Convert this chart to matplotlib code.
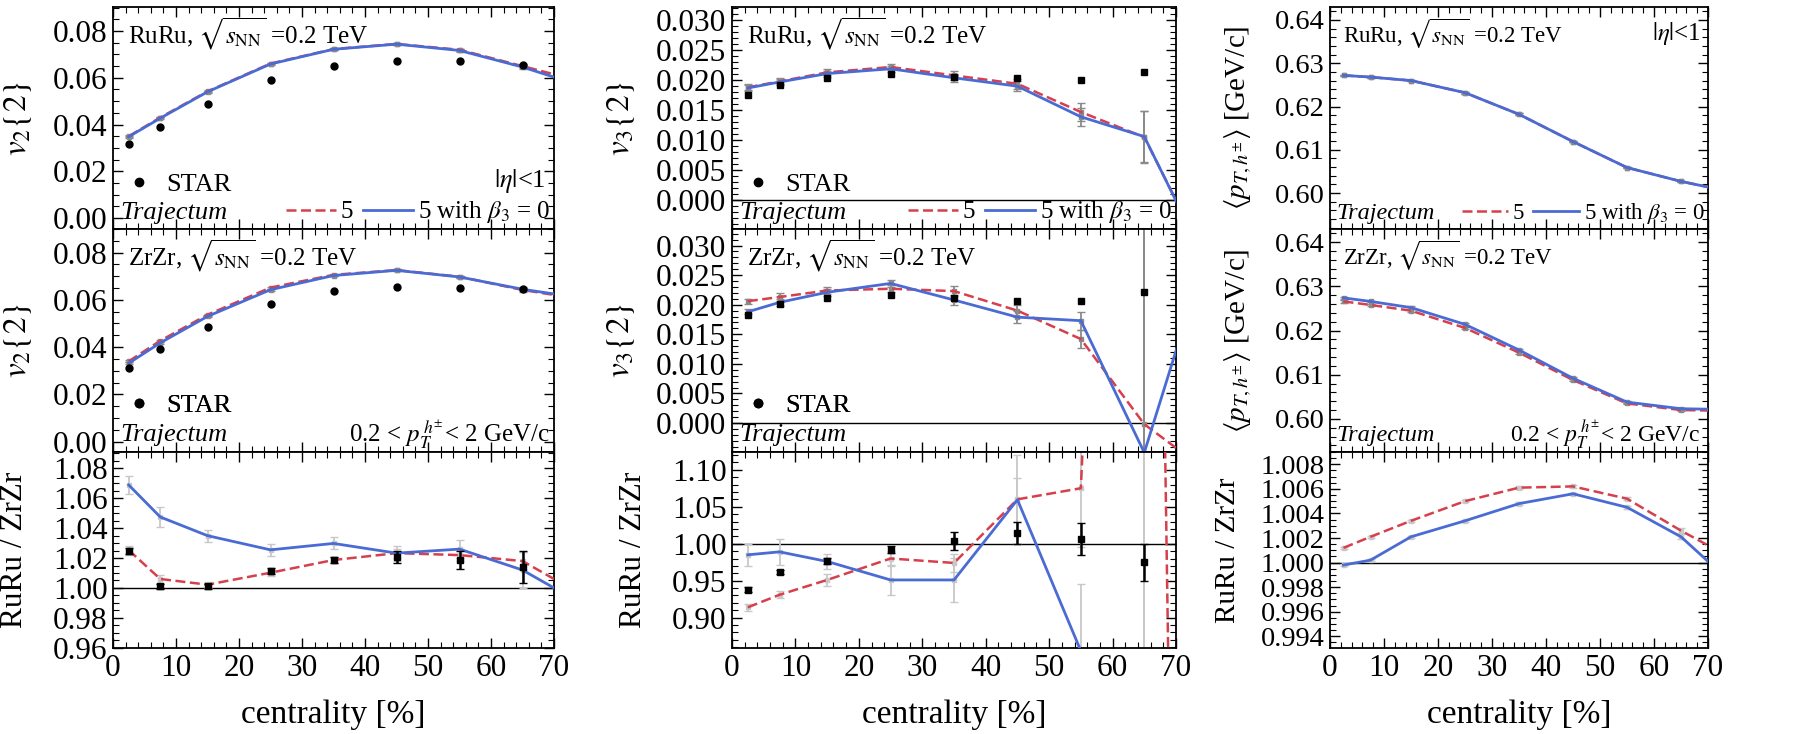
import numpy as np
import matplotlib
matplotlib.use('Agg')
import matplotlib.pyplot as plt
from matplotlib.ticker import MultipleLocator, FuncFormatter
from matplotlib.lines import Line2D

plt.rcParams['font.family'] = ['Liberation Serif', 'DejaVu Serif']
plt.rcParams['mathtext.fontset'] = 'stix'

# ---------------- data ----------------
cent = [2.5, 7.5, 15, 25, 35, 45, 55, 65, 75]
star_cent = [2.5, 7.5, 15, 25, 35, 45, 55, 65]

# v2{2}
v2_ru_b5 = [0.0350, 0.0430, 0.0542, 0.0661, 0.0723, 0.0745, 0.0720, 0.0650, 0.0580]
v2_ru_b0 = [0.0348, 0.0427, 0.0540, 0.0659, 0.0722, 0.0744, 0.0717, 0.0646, 0.0560]
v2_ru_err = [0.0004, 0.0004, 0.0004, 0.0004, 0.0004, 0.0004, 0.0005, 0.0008, 0.0]
v2_ru_star = [0.0315, 0.0390, 0.0490, 0.0590, 0.0650, 0.0672, 0.0670, 0.0655]
v2_zr_b5 = [0.0340, 0.0427, 0.0537, 0.0652, 0.0706, 0.0726, 0.0698, 0.0642, 0.0600]
v2_zr_b0 = [0.0332, 0.0418, 0.0530, 0.0643, 0.0703, 0.0725, 0.0697, 0.0645, 0.0605]
v2_zr_err = [0.0005, 0.0005, 0.0004, 0.0004, 0.0004, 0.0004, 0.0005, 0.0008, 0.0]
v2_zr_star = [0.0311, 0.0390, 0.0487, 0.0583, 0.0636, 0.0654, 0.0651, 0.0645]
v2_ratio_b5 = [1.0253, 1.0060, 1.0022, 1.0102, 1.0187, 1.0233, 1.0220, 1.0180, 0.9940]
v2_ratio_b0 = [1.0689, 1.0475, 1.0350, 1.0255, 1.0298, 1.0233, 1.0260, 1.0120, 0.9880]
v2_ratio_b5_err = [0.003, 0.003, 0.002, 0.002, 0.002, 0.003, 0.004, 0.006, 0.0]
v2_ratio_b0_err = [0.006, 0.007, 0.004, 0.004, 0.004, 0.005, 0.006, 0.012, 0.0]
v2_ratio_star = [1.0250, 1.0010, 1.0010, 1.0115, 1.0185, 1.0210, 1.0190, 1.0140]
v2_ratio_star_err = [0.002, 0.0015, 0.0015, 0.002, 0.002, 0.004, 0.006, 0.011]

# v3{2}
v3_ru_b5 = [0.0188, 0.0198, 0.0213, 0.0222, 0.0208, 0.0194, 0.0147, 0.0105, -0.0105]
v3_ru_b0 = [0.0187, 0.0197, 0.0211, 0.0219, 0.0204, 0.0190, 0.0139, 0.0106, -0.0108]
v3_ru_err = [0.0005, 0.0005, 0.0005, 0.0005, 0.0007, 0.0008, 0.0015, 0.0043, 0.0]
v3_ru_star = [0.0175, 0.0192, 0.0203, 0.0211, 0.0205, 0.0204, 0.0201, 0.0213]
v3_zr_b5 = [0.0206, 0.0213, 0.0224, 0.0227, 0.0223, 0.0190, 0.0142, -0.0002, -0.0082]
v3_zr_b0 = [0.0188, 0.0204, 0.0221, 0.0236, 0.0208, 0.0179, 0.0173, -0.0050, 0.0294]
v3_zr_err = [0.0004, 0.0006, 0.0006, 0.0006, 0.0008, 0.0010, 0.0015, 0.0400, 0.0]
v3_zr_star = [0.0183, 0.0202, 0.0211, 0.0217, 0.0212, 0.0206, 0.0206, 0.0222]
v3_ratio_b5 = [0.914, 0.931, 0.951, 0.980, 0.974, 1.060, 1.075, 3.0, -2.7]
v3_ratio_b0 = [0.985, 0.989, 0.976, 0.951, 0.951, 1.0595, 0.855, -2.0, -0.5]
v3_ratio_b5_err = [0.005, 0.005, 0.008, 0.010, 0.012, 0.060, 0.080, 5.0, 0.0]
v3_ratio_b0_err = [0.015, 0.018, 0.010, 0.020, 0.030, 0.030, 0.090, 5.0, 0.0]
v3_ratio_star = [0.9378, 0.9618, 0.9770, 0.9919, 1.0040, 1.0144, 1.0064, 0.9750]
v3_ratio_star_err = [0.003, 0.003, 0.004, 0.005, 0.012, 0.015, 0.022, 0.025]

# <pT>
pt_ru_b5 = [0.6272, 0.6268, 0.6260, 0.6232, 0.6182, 0.6119, 0.6059, 0.6027, 0.6001]
pt_ru_b0 = [0.6272, 0.6268, 0.6260, 0.6232, 0.6182, 0.6119, 0.6059, 0.6027, 0.6001]
pt_ru_err = [0.0002, 0.0002, 0.0002, 0.0002, 0.0002, 0.0002, 0.0002, 0.0002, 0.0]
pt_zr_b5 = [0.6266, 0.6258, 0.6245, 0.6206, 0.6150, 0.6088, 0.6035, 0.6020, 0.6018]
pt_zr_b0 = [0.6274, 0.6266, 0.6252, 0.6214, 0.6156, 0.6092, 0.6038, 0.6023, 0.6021]
pt_zr_err = [0.0003, 0.0002, 0.0003, 0.0003, 0.0003, 0.0002, 0.0002, 0.0002, 0.0]
pt_ratio_b5 = [1.0012, 1.0021, 1.0034, 1.0050, 1.0061, 1.0062, 1.0052, 1.0026, 1.0002]
pt_ratio_b0 = [0.9998, 1.0002, 1.0021, 1.0034, 1.0048, 1.0056, 1.0045, 1.0021, 0.9981]
pt_ratio_err = [0.0001, 0.0001, 0.0001, 0.0001, 0.0001, 0.0001, 0.0001, 0.0002, 0.0]

# ---------------- styling ----------------
RED = '#d6404c'
BLUE = '#4a6bd3'
GRAY = '#8a8a8a'
LGRAY = '#c8c8c8'
DASH = (0, (4, 1.8))
W, H = 1812, 734
cols = [(113, 554), (732, 1176), (1330, 1708)]
rows = [(7, 229), (229, 452), (452, 648)]
TICKS = [22.5, 22.5, 20.5]
ANNS = [18, 18, 16.5]
LAB = 23
LAB3 = 21

fig = plt.figure(figsize=(W / 100, H / 100), dpi=100)


def mkax(c, r):
    l, rr = cols[c]
    t, b = rows[r]
    return fig.add_axes([l / W, 1 - b / H, (rr - l) / W, (b - t) / H])


def fmt(n):
    return FuncFormatter(lambda v, p: f'{0.0 if abs(v) < 1e-9 else v:.{n}f}')


def style(ax, col, ylim, major, minor, ndec, bottom=False):
    ax.set_xlim(0, 70)
    ax.set_ylim(*ylim)
    ax.xaxis.set_major_locator(MultipleLocator(10))
    ax.xaxis.set_minor_locator(MultipleLocator(2))
    ax.yaxis.set_major_locator(MultipleLocator(major))
    ax.yaxis.set_minor_locator(MultipleLocator(minor))
    ax.yaxis.set_major_formatter(fmt(ndec))
    ax.tick_params(which='both', direction='in', top=True, right=True,
                   labelsize=TICKS[col], labelbottom=bottom, pad=4)
    ax.tick_params(axis='x', labelsize=22.5)
    ax.tick_params(which='major', length=7, width=1.0)
    ax.tick_params(which='minor', length=4, width=0.8)
    for s in ax.spines.values():
        s.set_linewidth(1.3)


def model(ax, b5, b0, err5, err0, ecol=GRAY):
    ax.errorbar(cent, b5, yerr=err5, fmt='s', ms=3, color=ecol, ecolor=ecol,
                capsize=3, elinewidth=1.3, zorder=2)
    ax.errorbar(cent, b0, yerr=err0, fmt='s', ms=3, color=ecol, ecolor=ecol,
                capsize=3, elinewidth=1.3, zorder=2)
    ax.plot(cent, b5, color=RED, ls=DASH, lw=1.8, zorder=3)
    ax.plot(cent, b0, color=BLUE, lw=2.0, zorder=4)


def star(ax, vals, err=None, marker='o', ms=5):
    ax.errorbar(star_cent, vals, yerr=err, fmt=marker, ms=ms, color='k',
                ecolor='k', capsize=3, elinewidth=1.8, zorder=5)


def traj(ax, col, y=0.072):
    ax.text(0.016, y, 'Trajectum', style='italic', transform=ax.transAxes,
            va='center', ha='left', fontsize=ANNS[col] + 1)


def star_leg(ax, y):
    leg = ax.legend([Line2D([], [], marker='o', ls='', color='k', ms=6)], ['STAR'],
                    loc='center left', bbox_to_anchor=(0.0, y), frameon=False,
                    fontsize=19, handletextpad=0.4, borderaxespad=0.0,
                    handlelength=1.2)
    ax.add_artist(leg)


def model_leg(ax, col):
    h = [Line2D([], [], color=RED, ls=DASH, lw=1.8), Line2D([], [], color=BLUE, lw=2.0)]
    ax.legend(h, ['5', r'5 with $\beta_3$ = 0'], loc='lower right', ncol=2,
              frameon=False, fontsize=ANNS[col], handlelength=2.0, handletextpad=0.2,
              columnspacing=0.4, borderaxespad=0.0, borderpad=0.15)


def title(ax, col, sys):
    ax.text(0.034, 0.88, sys + r', $\sqrt{s_{\rm NN}}$ =0.2 TeV', transform=ax.transAxes,
            va='center', ha='left', fontsize=ANNS[col])


ptcut = r'0.2 < $p_T^{\,h^{\pm}}$< 2 GeV/c'

# ---------------- column 1: v2 ----------------
a = mkax(0, 0)
style(a, 0, (-0.0047, 0.0903), 0.02, 0.005, 2)
model(a, v2_ru_b5, v2_ru_b0, v2_ru_err, v2_ru_err)
star(a, v2_ru_star)
title(a, 0, 'RuRu')
traj(a, 0)
star_leg(a, 0.20)
model_leg(a, 0)
a.text(0.98, 0.215, r'$|\eta|$<1', transform=a.transAxes, ha='right', va='center', fontsize=19)
a.set_ylabel(r'$v_2\{2\}$', fontsize=LAB + 1)
a.yaxis.set_label_coords(-0.18, 0.5)

a = mkax(0, 1)
style(a, 0, (-0.0044, 0.0900), 0.02, 0.005, 2)
model(a, v2_zr_b5, v2_zr_b0, v2_zr_err, v2_zr_err)
star(a, v2_zr_star)
title(a, 0, 'ZrZr')
traj(a, 0, 0.076)
star_leg(a, 0.21)
a.text(0.99, 0.076, ptcut, transform=a.transAxes, ha='right', va='center', fontsize=18)
a.set_ylabel(r'$v_2\{2\}$', fontsize=LAB + 1)
a.yaxis.set_label_coords(-0.18, 0.5)

a = mkax(0, 2)
style(a, 0, (0.9598, 1.091), 0.02, 0.005, 2, bottom=True)
a.axhline(1.0, color='k', lw=1.0, zorder=1)
model(a, v2_ratio_b5, v2_ratio_b0, v2_ratio_b5_err, v2_ratio_b0_err, ecol=LGRAY)
star(a, v2_ratio_star, v2_ratio_star_err, marker='s', ms=4)
a.set_ylabel('RuRu / ZrZr', fontsize=LAB - 0.5)
a.yaxis.set_label_coords(-0.19, 0.5)
a.set_xlabel('centrality [%]', fontsize=24, labelpad=12)

# ---------------- column 2: v3 ----------------
a = mkax(1, 0)
style(a, 1, (-0.0048, 0.0322), 0.005, 0.001, 3)
a.axhline(0.0, color='k', lw=1.0, zorder=1)
model(a, v3_ru_b5, v3_ru_b0, v3_ru_err, v3_ru_err)
star(a, v3_ru_star, marker='s', ms=4.5)
title(a, 1, 'RuRu')
traj(a, 1)
star_leg(a, 0.20)
model_leg(a, 1)
a.set_ylabel(r'$v_3\{2\}$', fontsize=LAB + 1)
a.yaxis.set_label_coords(-0.215, 0.5)

a = mkax(1, 1)
style(a, 1, (-0.0049, 0.0328), 0.005, 0.001, 3)
a.axhline(0.0, color='k', lw=1.0, zorder=1)
model(a, v3_zr_b5, v3_zr_b0, v3_zr_err, v3_zr_err)
star(a, v3_zr_star, marker='s', ms=4.5)
title(a, 1, 'ZrZr')
traj(a, 1, 0.076)
star_leg(a, 0.21)
a.set_ylabel(r'$v_3\{2\}$', fontsize=LAB + 1)
a.yaxis.set_label_coords(-0.215, 0.5)

a = mkax(1, 2)
style(a, 1, (0.859, 1.124), 0.05, 0.01, 2, bottom=True)
a.axhline(1.0, color='k', lw=1.0, zorder=1)
model(a, v3_ratio_b5, v3_ratio_b0, v3_ratio_b5_err, v3_ratio_b0_err, ecol=LGRAY)
star(a, v3_ratio_star, v3_ratio_star_err, marker='s', ms=4)
a.set_ylabel('RuRu / ZrZr', fontsize=LAB - 0.5)
a.yaxis.set_label_coords(-0.19, 0.5)
a.set_xlabel('centrality [%]', fontsize=24, labelpad=12)

# ---------------- column 3: <pT> ----------------
a = mkax(2, 0)
style(a, 2, (0.5917, 0.643), 0.01, 0.002, 2)
model(a, pt_ru_b5, pt_ru_b0, pt_ru_err, pt_ru_err)
title(a, 2, 'RuRu')
traj(a, 2)
model_leg(a, 2)
a.text(0.98, 0.88, r'$|\eta|$<1', transform=a.transAxes, ha='right', va='center', fontsize=18)
a.set_ylabel(r'$\langle p_{T,h^{\pm}}\rangle$ [GeV/c]', fontsize=LAB3)
a.yaxis.set_label_coords(-0.20, 0.5)

a = mkax(2, 1)
style(a, 2, (0.5925, 0.643), 0.01, 0.002, 2)
model(a, pt_zr_b5, pt_zr_b0, pt_zr_err, pt_zr_err)
title(a, 2, 'ZrZr')
traj(a, 2, 0.076)
a.text(0.98, 0.076, ptcut, transform=a.transAxes, ha='right', va='center', fontsize=17)
a.set_ylabel(r'$\langle p_{T,h^{\pm}}\rangle$ [GeV/c]', fontsize=LAB3)
a.yaxis.set_label_coords(-0.20, 0.5)

a = mkax(2, 2)
style(a, 2, (0.99305, 1.009), 0.002, 0.0005, 3, bottom=True)
a.axhline(1.0, color='k', lw=1.0, zorder=1)
model(a, pt_ratio_b5, pt_ratio_b0, pt_ratio_err, pt_ratio_err, ecol=LGRAY)
a.set_ylabel('RuRu / ZrZr', fontsize=LAB3)
a.yaxis.set_label_coords(-0.235, 0.5)
a.set_xlabel('centrality [%]', fontsize=24, labelpad=12)

fig.savefig('out.png', dpi=100)
